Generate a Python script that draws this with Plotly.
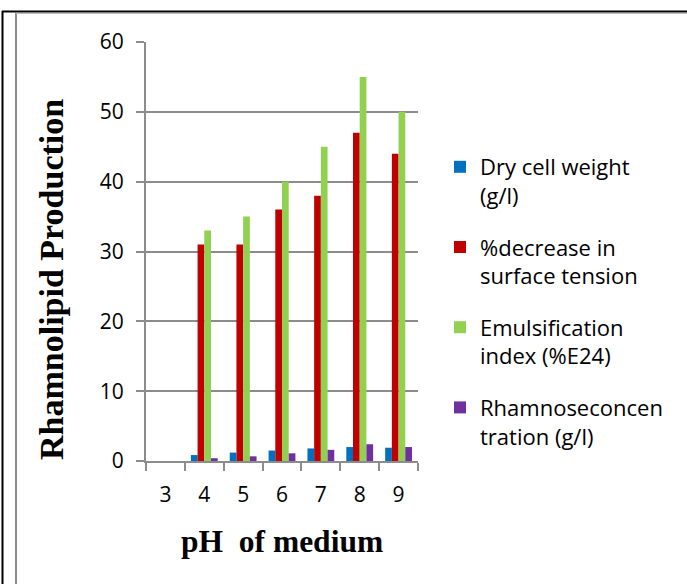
import plotly.graph_objects as go

ph = ["3", "4", "5", "6", "7", "8", "9"]
dry_cell_weight = [0, 0.85, 1.2, 1.5, 1.8, 2.0, 1.9]
surface_tension_decrease = [0, 31, 31, 36, 38, 47, 44]
emulsification_index = [0, 33, 35, 40, 45, 55, 50]
rhamnose_conc = [0, 0.4, 0.67, 1.1, 1.6, 2.4, 2.0]

series = [
    ("Dry cell weight<br>(g/l)", dry_cell_weight, "#0070C0"),
    ("%decrease in<br>surface tension", surface_tension_decrease, "#C00000"),
    ("Emulsification<br>index (%E24)", emulsification_index, "#92D050"),
    ("Rhamnoseconcen<br>tration (g/l)", rhamnose_conc, "#7030A0"),
]

W, H = 687, 584
L, R, T, B = 146, 418, 42, 461

fig = go.Figure()
for i, (name, vals, col) in enumerate(series):
    fig.add_trace(go.Bar(x=ph, y=vals, name=name, marker_color=col,
                         marker_line_width=0, legendgroup=f"g{i}"))

grey = "#8C8C8C"
tickfont = dict(family="Open Sans", size=21, color="#000000")

fig.update_layout(
    width=W, height=H,
    margin=dict(l=L, r=W - R, t=T, b=H - B, pad=0),
    paper_bgcolor="white", plot_bgcolor="white",
    barmode="group", bargap=0.31, bargroupgap=0,
    showlegend=True,
    legend=dict(x=(440 - L) / (R - L), y=(H - 146 - (H - B)) / (B - T),
                xanchor="left", yanchor="top",
                font=dict(family="Open Sans", size=22, color="#000000"),
                tracegroupgap=20, valign="top", bgcolor="rgba(0,0,0,0)"),
    xaxis=dict(type="category", showline=True, linecolor=grey, linewidth=2,
               ticks="outside", tickson="boundaries", ticklen=8, tickwidth=2,
               tickcolor=grey, tickfont=tickfont, showgrid=False,
               ticklabelstandoff=14),
    yaxis=dict(range=[0, 60], dtick=10, showline=True, linecolor=grey,
               linewidth=2, ticks="outside", ticklen=8, tickwidth=2,
               tickcolor=grey, showgrid=True, gridcolor=grey, gridwidth=2,
               zeroline=False, tickfont=tickfont, ticklabelstandoff=8),
)

def px(xp):
    return (xp - L) / (R - L)

def py(yp):
    return (B - yp) / (B - T)

fig.add_annotation(text="<b>Rhamnolipid Production</b>", xref="paper", yref="paper",
                   x=px(51), y=py(280), textangle=-90, showarrow=False,
                   font=dict(family="Liberation Serif", size=34, color="#000000"),
                   xanchor="center", yanchor="middle")
fig.add_annotation(text="<b>pH  of medium</b>", xref="paper", yref="paper",
                   x=px(282), y=py(541), showarrow=False,
                   font=dict(family="Liberation Serif", size=31.5, color="#000000"),
                   xanchor="center", yanchor="middle")

# page border decorations
fig.add_shape(type="line", xref="paper", yref="paper", x0=px(2.5), x1=px(2.5),
              y0=py(11), y1=py(584), line=dict(color="#000000", width=2))
fig.add_shape(type="line", xref="paper", yref="paper", x0=px(2), x1=px(687),
              y0=py(11.5), y1=py(11.5), line=dict(color="#000000", width=2))
fig.add_shape(type="line", xref="paper", yref="paper", x0=px(16), x1=px(16),
              y0=py(13), y1=py(584), line=dict(color=grey, width=2))
fig.add_shape(type="line", xref="paper", yref="paper", x0=px(16), x1=px(687),
              y0=py(13.5), y1=py(13.5), line=dict(color="#BBBBBB", width=1))

fig.write_html("out.html")
